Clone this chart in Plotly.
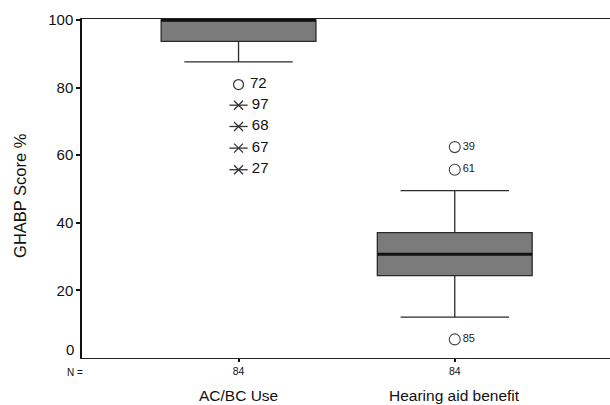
import plotly.graph_objects as go

# ---- data ----
categories = ["AC/BC Use", "Hearing aid benefit"]
n_counts = [84, 84]
q1 = [93.7, 24.4]
median = [100.0, 30.7]
q3 = [100.0, 37.1]
lower_whisker = [87.6, 12.1]
upper_whisker = [100.0, 49.5]

# outliers (circles) and extremes (asterisks)
out1_vals = [80.9]
out1_labels = ["72"]
ext1_vals = [74.8, 68.5, 62.1, 55.7]
ext1_labels = ["97", "68", "67", "27"]
out2_vals = [62.4, 55.7, 5.5]
out2_labels = ["39", "61", "85"]

y_ticks = [20, 40, 60, 80, 100]

FONT = "Liberation Sans, Arial, sans-serif"
BOX_W = 0.716
xpos = list(range(len(categories)))

fig = go.Figure()

fig.add_trace(go.Box(
    x=xpos, q1=q1, median=median, q3=q3,
    lowerfence=lower_whisker, upperfence=upper_whisker,
    width=BOX_W, whiskerwidth=0.7,
    fillcolor="#7b7b7b", line=dict(color="#2a2a2a", width=1.3),
    boxpoints=False, showlegend=False, hoverinfo="skip",
))

# thicker median lines
for i, m in enumerate(median):
    fig.add_trace(go.Scatter(
        x=[xpos[i] - BOX_W / 2, xpos[i] + BOX_W / 2], y=[m, m],
        mode="lines", line=dict(color="#111111", width=3.2),
        showlegend=False, hoverinfo="skip",
    ))

# outliers group 1 (circle)
fig.add_trace(go.Scatter(
    x=[xpos[0]] * len(out1_vals), y=out1_vals, text=[" " + t for t in out1_labels],
    mode="markers+text", textposition="middle right",
    marker=dict(symbol="circle-open", size=10, color="#333333", line=dict(width=1.2)),
    textfont=dict(family=FONT, size=15, color="#111111"),
    showlegend=False, hoverinfo="skip", cliponaxis=False,
))
# extremes group 1 (asterisk: x + horizontal line)
fig.add_trace(go.Scatter(
    x=[xpos[0]] * len(ext1_vals), y=ext1_vals,
    mode="markers",
    marker=dict(symbol="x-thin-open", size=9, color="#333333", line=dict(width=1.3, color="#333333")),
    showlegend=False, hoverinfo="skip",
))
fig.add_trace(go.Scatter(
    x=[xpos[0]] * len(ext1_vals), y=ext1_vals, text=[" " + t for t in ext1_labels],
    mode="markers+text", textposition="middle right",
    marker=dict(symbol="line-ew-open", size=13, color="#333333", line=dict(width=1.3, color="#333333")),
    textfont=dict(family=FONT, size=15, color="#111111"),
    showlegend=False, hoverinfo="skip",
))
# outliers group 2 (circles, small labels)
fig.add_trace(go.Scatter(
    x=[xpos[1]] * len(out2_vals), y=out2_vals, text=out2_labels,
    mode="markers+text", textposition="middle right",
    marker=dict(symbol="circle-open", size=11, color="#444444", line=dict(width=1.1)),
    textfont=dict(family=FONT, size=11, color="#222222"),
    showlegend=False, hoverinfo="skip",
))

# "0" label (sits a little above the axis line in the reference) and N= label
fig.add_annotation(x=0, xref="paper", y=0, yref="paper", text="0",
                   showarrow=False, xanchor="right", yanchor="bottom",
                   xshift=-6, yshift=-2, font=dict(family=FONT, size=15, color="#111111"))
fig.add_annotation(x=0, xref="paper", y=0, yref="paper", text="N =",
                   showarrow=False, xanchor="center", yanchor="middle",
                   xshift=-7, yshift=-14, font=dict(family=FONT, size=10, color="#111111"))
for i, c in enumerate(categories):
    fig.add_annotation(x=xpos[i], xref="x", y=0, yref="paper", text=c,
                       showarrow=False, xanchor="center", yanchor="middle",
                       yshift=-37, font=dict(family=FONT, size=15.5, color="#111111"))
# y axis title
fig.add_annotation(x=0, xref="paper", y=0.478, yref="paper", text="GHABP Score %",
                   showarrow=False, textangle=-90, xanchor="center", yanchor="middle",
                   xshift=-62, font=dict(family=FONT, size=16.5, color="#111111"))

fig.update_layout(
    width=610, height=405,
    margin=dict(l=82, r=0, t=19, b=47),
    paper_bgcolor="white", plot_bgcolor="white",
    font=dict(family=FONT, color="#111111"),
    xaxis=dict(
        range=[-0.724, 1.718], tickvals=xpos, ticktext=[str(n) for n in n_counts],
        tickfont=dict(size=10.5), ticks="outside", ticklen=3, tickwidth=2, tickcolor="#111111",
        showline=True, linecolor="#222222", linewidth=1.3, mirror=True,
        showgrid=False, zeroline=False, automargin=False,
    ),
    yaxis=dict(
        range=[0, 100.3], tickvals=y_ticks, ticktext=[str(v) for v in y_ticks],
        tickfont=dict(size=15), ticks="outside", ticklen=4, tickwidth=2, tickcolor="#111111",
        showline=True, linecolor="#111111", linewidth=1.5,
        showgrid=False, zeroline=False, automargin=False,
    ),
)

fig.write_html(
    "out.html",
    config={"displayModeBar": False},
    post_script="document.body.style.margin='0';document.body.style.overflow='hidden';",
)
